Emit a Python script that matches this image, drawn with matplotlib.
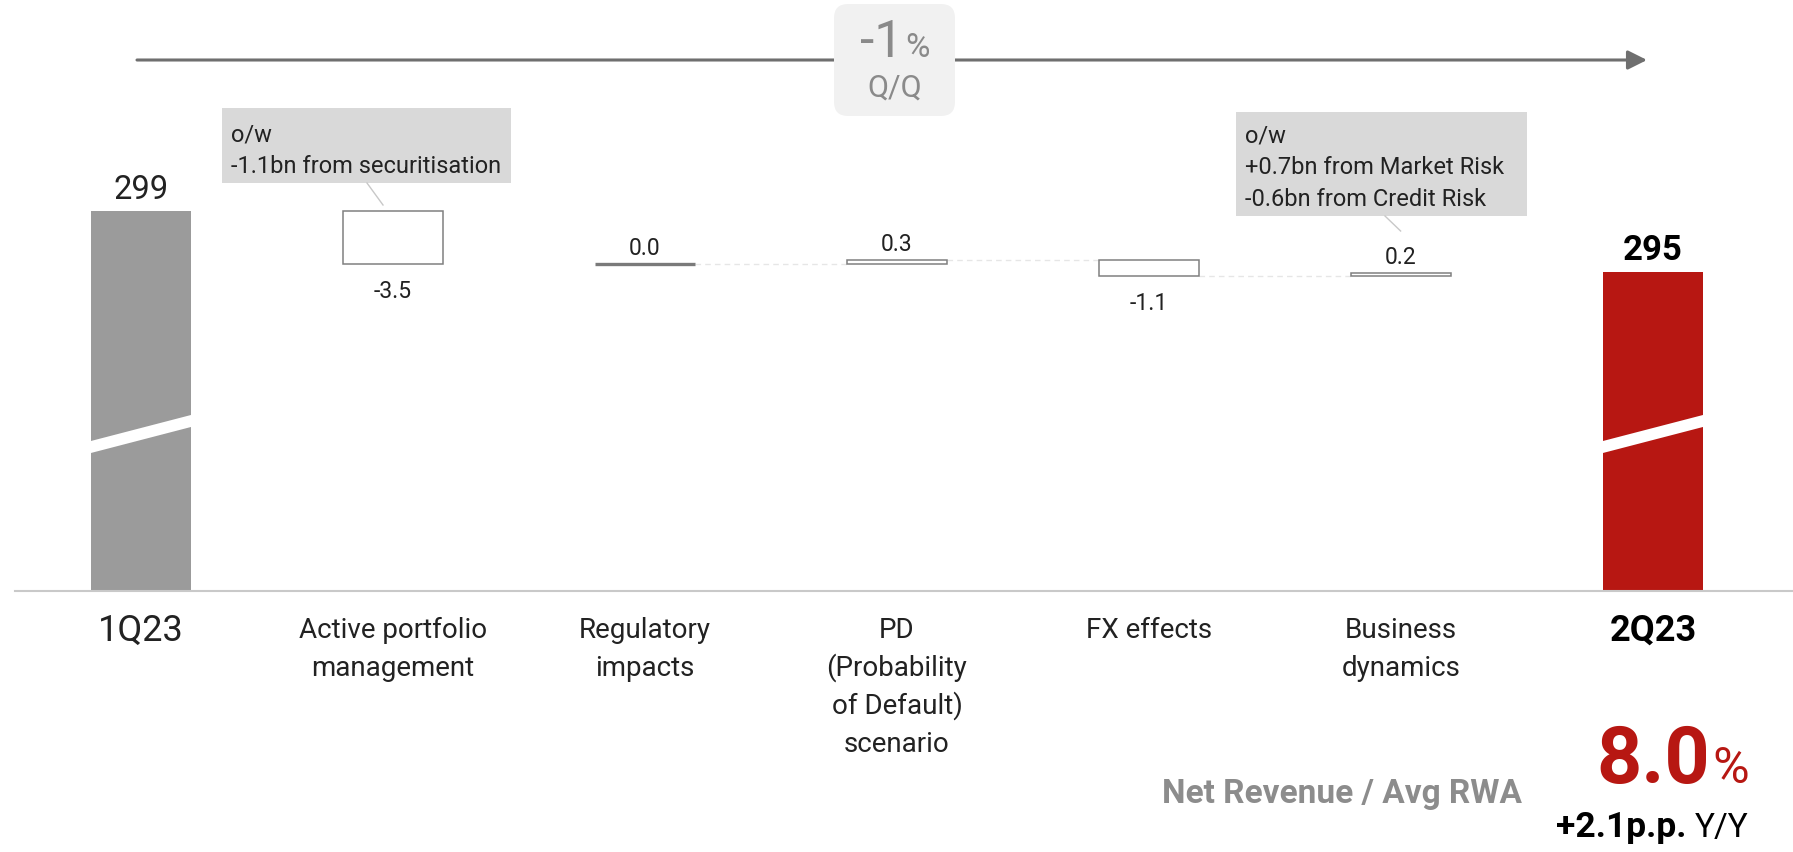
import matplotlib
matplotlib.use("Agg")
import matplotlib.pyplot as plt
from matplotlib.patches import Rectangle, FancyBboxPatch, Polygon, FancyArrowPatch
from matplotlib.transforms import IdentityTransform
from matplotlib.lines import Line2D

# ---------------------------------------------------------------- data
categories = ["1Q23", "Active portfolio\nmanagement", "Regulatory\nimpacts",
              "PD\n(Probability\nof Default)\nscenario", "FX effects",
              "Business\ndynamics", "2Q23"]
start_rwa = 299
end_rwa = 295
deltas = [-3.5, 0.0, 0.3, -1.1, 0.2]
qoq_change = "-1"
callout_active = ["o/w", "-1.1bn from securitisation"]
callout_business = ["o/w", "+0.7bn from Market Risk", "-0.6bn from Credit Risk"]
kpi_label = "Net Revenue / Avg RWA"
kpi_value = "8.0"
kpi_yoy = "+2.1p.p."

plt.rcParams["font.family"] = ["Roboto", "DejaVu Sans"]

# ---------------------------------------------------------------- layout
W, H = 1793, 853
fig = plt.figure(figsize=(W / 100, H / 100), dpi=100)
renderer = fig.canvas.get_renderer()
PIX = IdentityTransform()


def P(x, y):
    """top-left based pixel position -> display coordinates"""
    return x, H - y


def ptext(x, y, s, **kw):
    return fig.text(*P(x, y), s, transform=PIX, **kw)


def width(t):
    return t.get_window_extent(renderer).width


BASE_Y = 592          # pixel row of the category axis
TOP_Y = 90
PX_PER_UNIT = 15.2
axis_floor = start_rwa - (BASE_Y - 212) / PX_PER_UNIT
STEP = 252.0
X0 = 141.0

ax = fig.add_axes([0, (H - BASE_Y) / H, 1, (BASE_Y - TOP_Y) / H])
ax.set_xlim(-X0 / STEP, (W - X0) / STEP)
ax.set_ylim(axis_floor, axis_floor + (BASE_Y - TOP_Y) / PX_PER_UNIT)
ax.axis("off")

GREY_BAR = "#9b9b9b"
RED = "#b71712"
EDGE = "#808080"
DARK = "#222222"
BW = 0.4

# axis baseline
fig.add_artist(Line2D([15, W], [H - BASE_Y, H - BASE_Y], transform=PIX,
                      color="#c9c9c9", lw=1.5))

# total bars
n = len(categories)
ax.bar([0, n - 1], [start_rwa - axis_floor, end_rwa - axis_floor],
       bottom=axis_floor, width=BW, color=[GREY_BAR, RED], zorder=2)

# axis break stripes on the total bars
for xc in (0, n - 1):
    mid = axis_floor + 10.33
    slope = 4.31
    half = 6 / PX_PER_UNIT
    xs = [xc - 0.26, xc + 0.26, xc + 0.26, xc - 0.26]
    ys = [mid - slope * 0.26 - half, mid + slope * 0.26 - half,
          mid + slope * 0.26 + half, mid - slope * 0.26 + half]
    ax.add_patch(Polygon(list(zip(xs, ys)), closed=True, color="white", lw=0, zorder=3))

# total labels
ax.annotate(f"{start_rwa}", (0, start_rwa), xytext=(0, 9.5), textcoords="offset points",
            ha="center", va="baseline", fontsize=23.5, color=DARK)
ax.annotate(f"{end_rwa}", (n - 1, end_rwa), xytext=(0, 9.5), textcoords="offset points",
            ha="center", va="baseline", fontsize=25, fontweight="bold", color="black")

# floating delta bars
level = start_rwa
levels = []
for i, d in enumerate(deltas):
    x = i + 1
    new = level + d
    if d == 0:
        ax.hlines(level, x - BW / 2, x + BW / 2, color="#7a7a7a", lw=2.4, zorder=3)
    else:
        ax.bar(x, abs(d), bottom=min(level, new), width=BW, facecolor="white",
               edgecolor=EDGE, lw=1.1, zorder=3)
    top = max(level, new)
    bot = min(level, new)
    if d >= 0:
        ax.annotate(f"{d:.1f}", (x, top), xytext=(0, 7.2), textcoords="offset points",
                    ha="center", va="baseline", fontsize=16.5, color=DARK)
    else:
        ax.annotate(f"{d:.1f}", (x, bot), xytext=(0, -23.5), textcoords="offset points",
                    ha="center", va="baseline", fontsize=16.5, color=DARK)
    levels.append(new)
    level = new

# dashed connectors between the later steps
for i in range(1, len(deltas) - 1):
    ax.hlines(levels[i], i + 1 + BW / 2, i + 2 - BW / 2, color="#e6e6e6",
              lw=1.0, linestyles=(0, (4, 3)), zorder=1)

# category labels
LINE_STEP = 38
for i, lab in enumerate(categories):
    xc = X0 + STEP * i
    bold = (i == n - 1)
    big = i in (0, n - 1)
    for k, line in enumerate(lab.split("\n")):
        ptext(xc, 638 + LINE_STEP * k + (3 if big else 0), line, ha="center", va="baseline",
              fontsize=26 if big else 20, color="black" if bold else DARK,
              fontweight="bold" if bold else "normal")


# callout boxes
def callout(x0, y0, x1, y1, lines, base0, lead):
    fig.add_artist(Rectangle(P(x0, y1), x1 - x0, y1 - y0, transform=PIX,
                             facecolor="#d9d9d9", edgecolor="none"))
    for k, line in enumerate(lines):
        ptext(x0 + 9, base0 + 31.5 * k, line, ha="left", va="baseline",
              fontsize=17, color=DARK)
    (ax0, ay0), (ax1, ay1) = lead
    fig.add_artist(Line2D([ax0, ax1], [H - ay0, H - ay1], transform=PIX,
                          color="#c8c8c8", lw=1.0))


callout(221.6, 109, 511, 184, callout_active, 142, ((367, 184), (383, 206)))
callout(1236, 113, 1527, 217, callout_business, 143, ((1385, 217), (1400.6, 232)))

# quarter-on-quarter arrow with badge
fig.add_artist(FancyArrowPatch(
    P(137, 61), P(1647, 61), transform=PIX, arrowstyle="-|>", mutation_scale=29,
    color="#6f6f6f", lw=2.2, shrinkA=0, shrinkB=0))
fig.add_artist(FancyBboxPatch(P(834, 117), 955 - 834, 117 - 5, transform=PIX,
                              boxstyle="round,pad=0,rounding_size=14",
                              facecolor="#f1f1f1", edgecolor="none"))
BADGE = "#8a8a8a"
t_num = ptext(0, 57, qoq_change, ha="left", va="baseline", fontsize=37, color=BADGE)
t_pct = ptext(0, 57, "%", ha="left", va="baseline", fontsize=24, color=BADGE)
w_num, w_pct = width(t_num), width(t_pct)
left = 894.5 - (w_num + 2 + w_pct) / 2
t_num.set_position((left, H - 57))
t_pct.set_position((left + w_num + 2, H - 57))
ptext(894.5, 97, "Q/Q", ha="center", va="baseline", fontsize=22, color=BADGE)

# profitability KPI
ptext(1522, 803, kpi_label, ha="right", va="baseline", fontsize=24,
      fontweight="bold", color="#8c8c8c")
t_pc = ptext(1749, 783, "%", ha="right", va="baseline", fontsize=36, color=RED)
ptext(1749 - width(t_pc) - 2, 783, kpi_value, ha="right", va="baseline", fontsize=57,
      fontweight="bold", color=RED)
t_yy = ptext(1749, 837, "Y/Y", ha="right", va="baseline", fontsize=24, color="black")
ptext(1749 - width(t_yy) - 9, 837, kpi_yoy, ha="right", va="baseline", fontsize=25.5,
      fontweight="bold", color="black")

fig.savefig("out.png", dpi=100, facecolor="white")
